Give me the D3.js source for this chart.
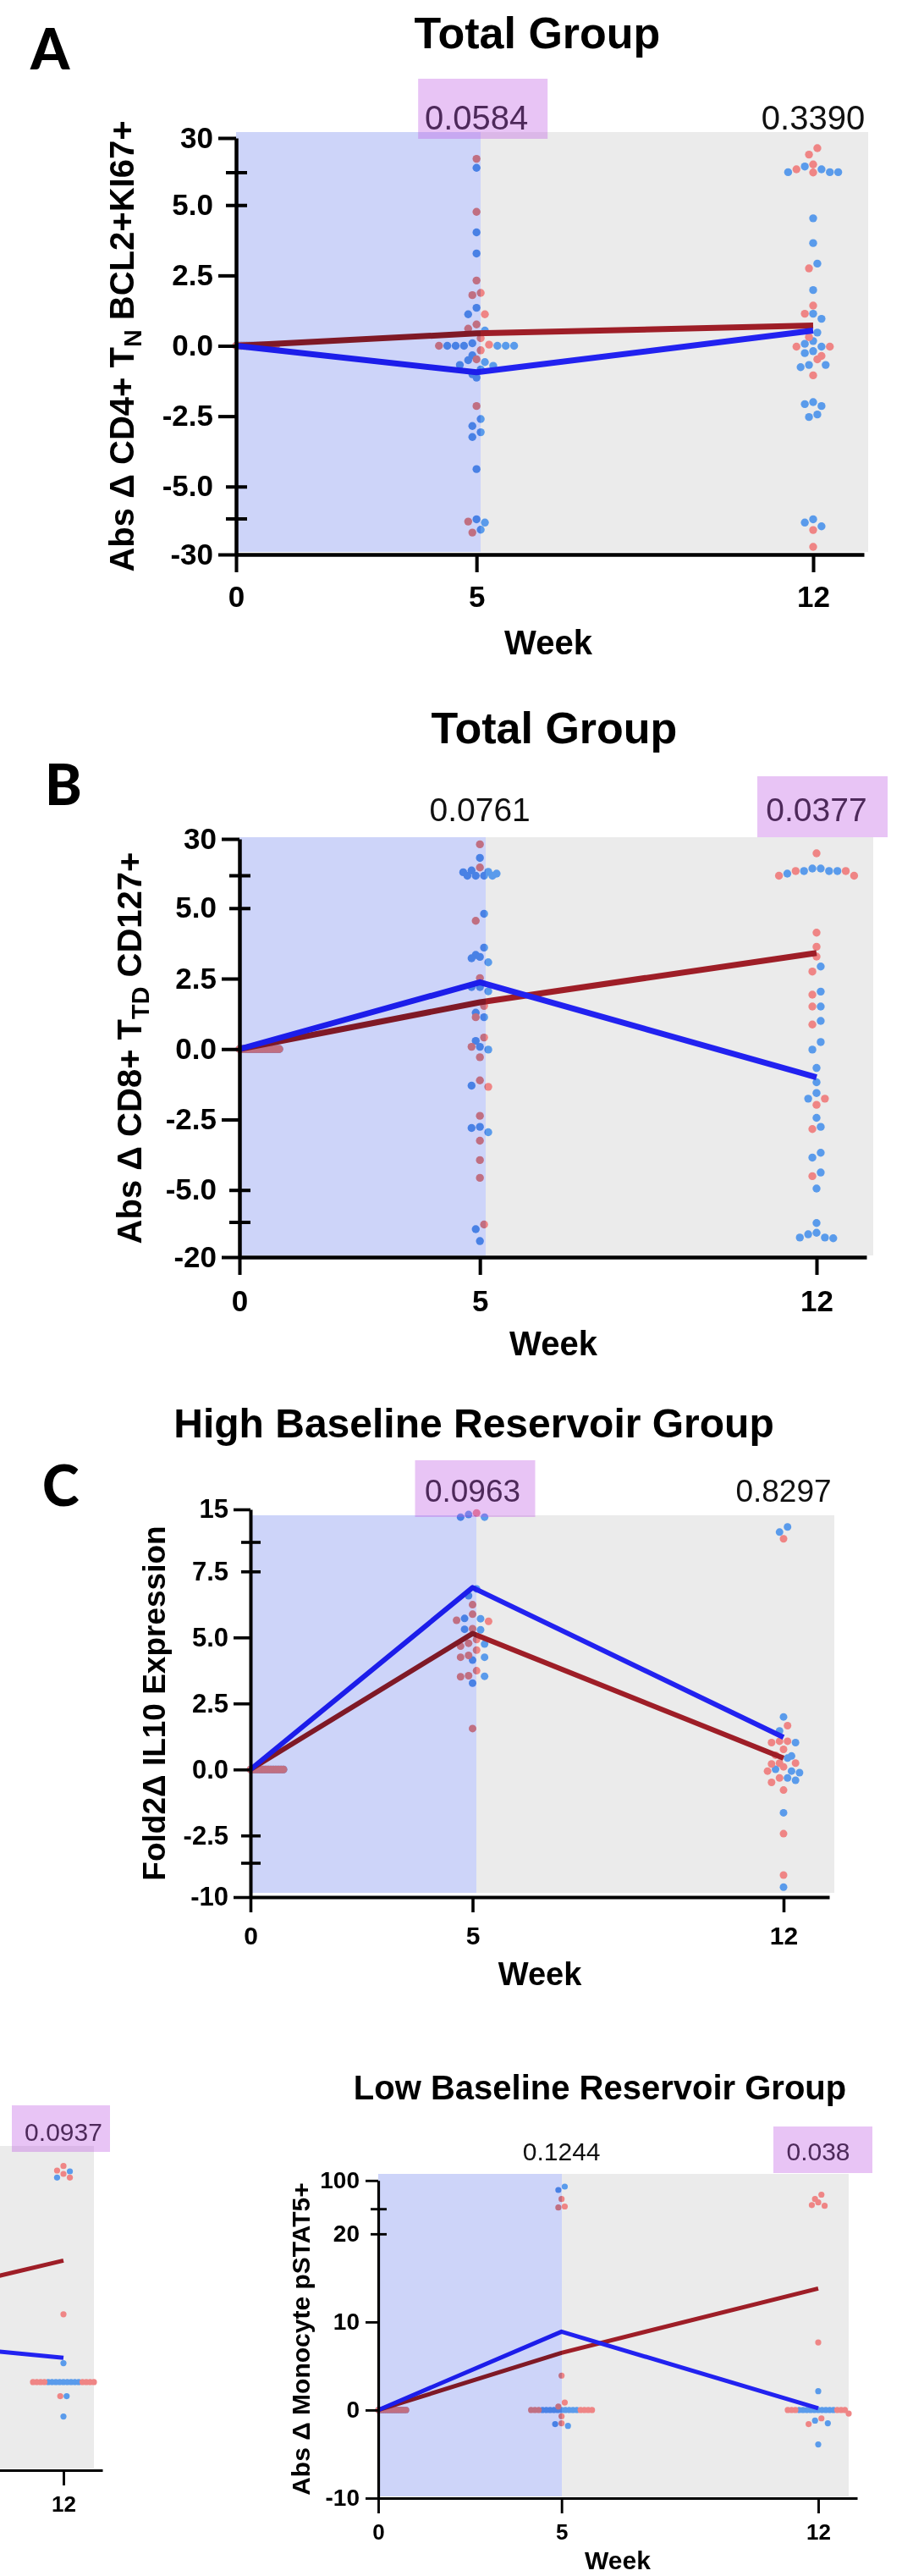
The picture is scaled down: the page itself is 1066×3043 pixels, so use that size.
<!DOCTYPE html>
<html>
<head>
<meta charset="utf-8">
<script src="https://cdn.jsdelivr.net/npm/d3@7"></script>
<style>
  body { margin: 0; background: #fff; }
  svg { display: block; }
</style>
</head>
<body>
<svg id="fig" width="1066" height="3043"></svg>
<script>
// weeks on the x axis
var weeks = [0, 5, 12];

// ---- A : Abs delta CD4+ TN BCL2+KI67+, total group
var aTicks = [30, 5, 2.5, 0, -2.5, -5, -30];
var aTickLabels = ["30", "5.0", "2.5", "0.0", "-2.5", "-5.0", "-30"];
var aPvals = ["", "0.0584", "0.3390"];
var aPhigh = [false, true, false];
var aBlueMean = [0, -0.94, 0.54];
var aRedMean = [0, 0.44, 0.72];
var aBlue0 = [0,0,0,0,0,0,0,0,0,0,0,0,0,0,0,0,0,0,0,0,0,0,0,0,0,0,0,0];
var aRed0 = [0,0,0,0,0,0,0,0,0,0,0,0,0,0,0,0];
var aBlue5 = [9.5, 4.03, 3.28, 1.35, 1.12, 0.54, 0.09, 0, 0, 0, 0, 0, 0, -0.34, -0.51, -0.58, -0.68,
  -0.71, -0.84, -1.01, -1.13, -2.6, -2.85, -3.07, -3.24, -4.38, -6.4, -8.6, -13.4];
var aRed5 = [15.7, 4.76, 2.32, 1.88, 1.8, 1.12, 0.76, 0.61, 0.27, 0.04, 0, -0.16, -0.48, -2.14, -7.9, -15.3];
var aBlue12 = [10.4, 8.5, 6.5, 6.5, 6.5, 4.53, 3.65, 2.92, 1.98, 1.14, 0.96, 0.47, 0.17, 0.07, -0.03, -0.19,
  -0.26, -0.68, -0.68, -0.76, -2.0, -2.07, -2.14, -2.44, -2.53, -6.4, -8.6, -11.1];
var aRed12 = [23, 18.6, 11.8, 8.5, 6.3, 2.75, 1.43, 1.14, 0.31, -0.03, -0.03, -0.36, -0.48, -1.05, -13.6, -24.9];

// ---- B : Abs delta CD8+ TTD CD127+, total group
var bTicks = [30, 5, 2.5, 0, -2.5, -5, -20];
var bTickLabels = ["30", "5.0", "2.5", "0.0", "-2.5", "-5.0", "-20"];
var bPvals = ["", "0.0761", "0.0377"];
var bPhigh = [false, false, true];
var bBlueMean = [0, 2.37, -1.0];
var bRedMean = [0, 1.66, 3.41];
var bBlue0 = [0,0,0,0,0,0,0,0,0,0,0,0,0,0,0,0,0,0,0,0,0,0,0,0,0,0,0,0];
var bRed0 = [0,0,0,0,0,0,0,0,0,0,0,0,0,0,0,0];
var bBlue5 = [17.7, 9.6, 8.7, 8.4, 7.5, 6.15, 6.15, 6.15, 6.15, 4.8, 3.6, 3.34, 3.27, 3.22, 3.08, 2.2, 2.2,
  2.05, 1.29, 1.13, 0.29, 0.08, -0.02, -1.3, -2.76, -2.8, -2.95, -8.85, -13.6];
var bRed5 = [26.5, 11.5, 4.55, 2.52, 1.53, 1.13, 0.41, 0.08, -0.29, -1.11, -1.34, -2.37, -3.25, -3.94, -4.57, -7.0];
var bBlue12 = [10.8, 10.8, 9.2, 9.2, 9.2, 7.5, 2.93, 2.04, 1.51, 1.0, 0.25, -0.02, -0.67, -1.18, -1.56, -1.76,
  -2.44, -2.76, -3.68, -3.85, -4.38, -4.95, -6.4, -10.3, -10.9, -12.2, -12.2, -12.5];
var bRed12 = [20.7, 9.2, 9.2, 6.15, 6.15, 4.13, 3.63, 3.28, 2.75, 1.93, 1.51, 0.87, -1.76, -1.98, -2.84, -4.51];

// ---- C : Fold2 delta IL10 expression, high baseline reservoir group
var cTicks = [15, 7.5, 5, 2.5, 0, -2.5, -10];
var cTickLabels = ["15", "7.5", "5.0", "2.5", "0.0", "-2.5", "-10"];
var cPvals = ["", "0.0963", "0.8297"];
var cPhigh = [false, true, false];
var cBlueMean = [0, 6.89, 1.22];
var cRedMean = [0, 5.15, 0.43];
var cBlue0 = [0,0,0,0,0,0,0,0,0,0,0,0,0,0];
var cRed0 = [0,0,0,0,0,0,0,0,0,0,0,0,0,0,0,0,0];
var cBlue5 = [14.0, 13.5, 13.5, 6.84, 6.58, 5.72, 5.71, 5.31, 5.29, 4.75, 4.25, 4.14, 3.53, 3.27];
var cRed5 = [14.3, 6.24, 5.88, 5.65, 5.61, 5.33, 4.92, 4.78, 4.67, 4.52, 4.32, 4.25, 3.74, 3.55, 3.51, 1.55];
var cBlue12 = [11.6, 10.6, 1.99, 1.46, 1.02, 0.51, 0.43, 0.01, -0.06, -0.12, -0.32, -0.41, -1.64, -8.1];
var cRed12 = [9.3, 1.66, 1.07, 1.07, 1.02, 0.76, 0.54, 0.24, 0.24, 0.21, 0.1, -0.06, -0.32, -0.49, -0.78, -2.43, -5.8];

// ---- D : Abs delta monocyte pSTAT5+, low baseline reservoir group
var dTicks = [100, 20, 10, 0, -10];
var dTickLabels = ["100", "20", "10", "0", "-10"];
var dPvals = ["", "0.1244", "0.038"];
var dPhigh = [false, false, true];
var dBlueMean = [0, 8.9, 0.2];
var dRedMean = [0, 6.5, 13.8];
var dBlue0 = [0,0,0,0,0,0,0,0,0,0,0,0,0,0];
var dRed0 = [0,0,0,0,0,0,0,0,0,0,0,0,0,0,0];
var dBlue5 = [83.6, 74.5, 0, 0, 0, 0, 0, 0, 0, 0, 0, 0, -1.6, -1.8];
var dRed5 = [50.1, 30.1, 27.4, 3.91, 0.85, 0.4, 0, 0, 0, 0, 0, 0, 0, -0.7, -1.5];
var dBlue12 = [2.14, 0, 0, 0, 0, 0, 0, 0, 0, 0, 0, -1.2, -1.5, -3.9];
var dRed12 = [62, 50.1, 41, 34, 31.9, 7.68, 0, 0, 0, 0, 0, 0, -0.4, -0.94, -1.6];

// ---- E : neighbouring panel cut by the left edge (only week 12 is visible)
var ePvals = ["", "", "0.0937"];
var ePhigh = [false, false, true];
var eBlueMean = [0, 5.6, 2.75];
var eRedMean = [0, 6.9, 13.8];
var eBlue12 = [49.4, 32.8, 2.15, 0, 0, 0, 0, 0, 0, 0, 0, 0, -1.6, -3.9];
var eRed12 = [63.8, 51.7, 42.6, 32.8, 7.7, 0, 0, 0, 0, 0, 0, 0, 0, -1.6];

var FONT = "'Liberation Sans', Arial, Helvetica, sans-serif";
var BLUE_DOT = "#5a9beb", RED_DOT = "#ef8585";
var BLUE_LINE = "#2222f0", RED_LINE = "#9e1e27";

var svg = d3.select("#fig");

// rows of dots, GraphPad style: values that sit within one dot of each other share a row
function swarm(items, y, r, maxHalf) {
  var diam = 2 * r;
  var s = items.slice().sort(function (a, b) { return b.v - a.v; });
  var bins = [];
  s.forEach(function (p) {
    var b = bins[bins.length - 1];
    if (b && y(p.v) - y(b[0].v) < diam) b.push(p); else bins.push([p]);
  });
  bins.forEach(function (b) {
    var n = b.length;
    var d = n > 1 ? Math.min(diam * 1.05, 2 * maxHalf / (n - 1)) : 0;
    b.forEach(function (p, i) {
      var k = n % 2 ? Math.ceil(i / 2) : Math.floor(i / 2) + 0.5;
      p.dx = (i % 2 ? -1 : 1) * k * d;
    });
  });
}

function column(g, x, y, c, wk, blue, red) {
  var items = blue.map(function (v) { return {v: v, col: BLUE_DOT}; })
    .concat(red.map(function (v) { return {v: v, col: RED_DOT}; }));
  if (wk === 0) {
    // baseline: every value is 0, spread to the right of the axis
    [BLUE_DOT, RED_DOT].forEach(function (col) {
      var sub = items.filter(function (p) { return p.col === col; });
      sub.forEach(function (p, i) { p.dx = sub.length > 1 ? i * c.w0 / (sub.length - 1) : 0; });
    });
  } else {
    swarm(items, y, c.r, c.maxHalf);
  }
  g.append("g").selectAll("circle").data(items).enter().append("circle")
    .attr("cx", function (d) { return x(wk) + d.dx; })
    .attr("cy", function (d) { return y(d.v); })
    .attr("r", c.r)
    .attr("fill", function (d) { return d.col; });
}

function panel(c) {
  var dx = c.dx || 0, dy = c.dy || 0;
  var g = svg.append("g").attr("transform", "translate(" + dx + "," + dy + ")");
  var x = d3.scaleLinear().domain([0, 12]).range([c.x0, c.x12]);
  var y = d3.scaleLinear().domain(c.yDomain).range(c.yRange);

  // grey part of the plot area
  g.append("rect")
    .attr("x", c.blueEnd).attr("y", c.plotTop)
    .attr("width", c.grayEnd - c.blueEnd).attr("height", c.plotBottom - c.plotTop)
    .attr("fill", "#ebebeb");

  // dots
  weeks.forEach(function (wk, i) {
    column(g, x, y, c, wk, c.blue[i], c.red[i]);
  });

  // group means
  var line = d3.line()
    .x(function (d, i) { return x(weeks[i]); })
    .y(function (d) { return y(d); });
  [[c.redMean, RED_LINE], [c.blueMean, BLUE_LINE]].forEach(function (m) {
    g.append("path").attr("d", line(m[0]))
      .attr("fill", "none").attr("stroke", m[1])
      .attr("stroke-width", c.lineW).attr("stroke-linejoin", "round");
  });

  // blue shading up to week 5, laid over the data
  g.append("rect")
    .attr("x", c.x0).attr("y", c.plotTop)
    .attr("width", c.blueEnd - c.x0).attr("height", c.plotBottom - c.plotTop)
    .attr("fill", "rgb(205,212,249)")
    .style("mix-blend-mode", "multiply");

  // y axis
  var yAxis = d3.axisLeft(y)
    .tickValues(c.yTicks)
    .tickFormat(function (d, i) { return c.yTickLabels[i]; })
    .tickSize(c.tick).tickSizeOuter(0).tickPadding(c.tickPad);
  var ya = g.append("g").attr("transform", "translate(" + c.x0 + ",0)").call(yAxis);
  ya.select(".domain").attr("stroke", "#000").attr("stroke-width", c.axisW);
  ya.selectAll(".tick line").attr("stroke", "#000").attr("stroke-width", c.axisW * 0.9)
    .filter(function (d) { return c.cross.indexOf(d) >= 0; })
    .attr("x1", c.crossR).attr("x2", -c.crossL);
  ya.selectAll(".tick text")
    .attr("font-family", FONT).attr("font-weight", "bold")
    .attr("font-size", c.tickFont).attr("fill", "#000");
  c.breaks.forEach(function (b) {
    ya.append("line").attr("x1", -c.crossL).attr("x2", c.crossR)
      .attr("y1", y(b)).attr("y2", y(b))
      .attr("stroke", "#000").attr("stroke-width", c.axisW * 0.9);
  });

  // x axis
  var xa = x.copy().domain([0, x.invert(c.xAxisEnd)]).range([c.x0, c.xAxisEnd]);
  var xg = g.append("g").attr("transform", "translate(0," + c.axisY + ")")
    .call(d3.axisBottom(xa).tickValues(weeks).tickFormat(d3.format("d"))
      .tickSize(c.xTick).tickSizeOuter(0));
  xg.select(".domain").attr("stroke", "#000").attr("stroke-width", c.axisW);
  xg.selectAll(".tick line").attr("stroke", "#000").attr("stroke-width", c.axisW * 0.9);
  xg.selectAll(".tick text")
    .attr("y", c.xLabelY - c.axisY).attr("dy", 0)
    .attr("font-family", FONT).attr("font-weight", "bold")
    .attr("font-size", c.xTickFont).attr("fill", "#000");

  // a panel pushed past the page edge keeps only the labels that are on the page
  if (c.partial) {
    ya.selectAll(".tick text").remove();
    xg.selectAll(".tick text").filter(function (d) { return x(d) + dx < 0; }).remove();
  }

  // axis titles
  if (c.week) {
    g.append("text").attr("x", c.week.x).attr("y", c.week.y)
      .attr("text-anchor", "middle").attr("font-family", FONT)
      .attr("font-weight", "bold").attr("font-size", c.week.size).text("Week");
  }

  if (c.ylab) {
    var t = g.append("text")
      .attr("transform", "translate(" + c.ylab.x + "," + c.ylab.y + ") rotate(-90)")
      .attr("text-anchor", "middle").attr("font-family", FONT)
      .attr("font-weight", "bold").attr("font-size", c.ylab.size);
    var shift = c.ylab.size * 0.22;
    c.ylab.parts.forEach(function (p, i) {
      var prevSub = i > 0 && c.ylab.parts[i - 1][1];
      var ts = t.append("tspan").text(p[0]);
      if (p[1]) ts.attr("font-size", c.ylab.size * 0.72).attr("dy", shift);
      else if (prevSub) ts.attr("dy", -shift);
    });
  }

  if (c.title) {
    g.append("text").attr("x", c.title.x).attr("y", c.title.y)
      .attr("text-anchor", "middle").attr("font-family", FONT)
      .attr("font-weight", "bold").attr("font-size", c.title.size).text(c.title.text);
  }
  if (c.letter) {
    g.append("text").attr("x", c.letter.x).attr("y", c.letter.y)
      .attr("font-family", "Lato, 'Open Sans', sans-serif").attr("font-weight", 900)
      .attr("font-size", 66).text(c.letter.text);
  }

  // p values above each week, the highlighted ones boxed in lilac
  weeks.forEach(function (wk, i) {
    if (!c.pvals[i]) return;
    g.append("text").attr("x", x(wk)).attr("y", c.pY)
      .attr("text-anchor", "middle").attr("font-family", FONT)
      .attr("font-size", c.pFont).attr("fill", "#111").text(c.pvals[i]);
    if (c.phigh[i]) {
      g.append("rect")
        .attr("x", x(wk) + c.box.l).attr("y", c.box.top)
        .attr("width", c.box.r - c.box.l).attr("height", c.box.bottom - c.box.top)
        .attr("fill", "rgb(189,86,226)").attr("fill-opacity", 0.35);
    }
  });
}

panel({
  x0: 279, x12: 961, xAxisEnd: 1021, grayEnd: 1026, blueEnd: 568,
  plotTop: 156, plotBottom: 652, axisY: 655,
  yDomain: [-30, -6.15, 6.15, 30], yRange: [655, 613, 204, 163],
  yTicks: aTicks, yTickLabels: aTickLabels, cross: [5, -5], breaks: [6.15, -6.15],
  tick: 21, crossL: 12, crossR: 13, tickPad: 6, tickFont: 35,
  xTick: 21, xTickFont: 35, xLabelY: 717,
  week: {x: 648, y: 773, size: 40},
  title: {text: "Total Group", x: 635, y: 57, size: 52},
  letter: {text: "A", x: 36, y: 82},
  ylab: {parts: [["Abs \u0394 CD4+ T", false], ["N", true], [" BCL2+KI67+", false]], x: 158, y: 409, size: 40},
  pvals: aPvals, phigh: aPhigh, pFont: 40, pY: 153, box: {l: -69, r: 84, top: 93, bottom: 164},
  blue: [aBlue0, aBlue5, aBlue12], red: [aRed0, aRed5, aRed12],
  blueMean: aBlueMean, redMean: aRedMean,
  r: 4.7, maxHalf: 45, w0: 47, lineW: 7, axisW: 4.5
});

panel({
  x0: 283, x12: 965, xAxisEnd: 1024, grayEnd: 1032, blueEnd: 574,
  plotTop: 989, plotBottom: 1483, axisY: 1485,
  yDomain: [-20, -6.15, 6.15, 30], yRange: [1485, 1444, 1034.5, 991],
  yTicks: bTicks, yTickLabels: bTickLabels, cross: [5, -5], breaks: [6.15, -6.15],
  tick: 21, crossL: 12, crossR: 13, tickPad: 6, tickFont: 35,
  xTick: 21, xTickFont: 35, xLabelY: 1549,
  week: {x: 654, y: 1601, size: 40},
  title: {text: "Total Group", x: 655, y: 878, size: 52},
  letter: {text: "B", x: 53, y: 951},
  ylab: {parts: [["Abs \u0394 CD8+ T", false], ["TD", true], [" CD127+", false]], x: 167, y: 1238, size: 40},
  pvals: bPvals, phigh: bPhigh, pFont: 39, pY: 970, box: {l: -70, r: 84, top: 917, bottom: 989},
  blue: [bBlue0, bBlue5, bBlue12], red: [bRed0, bRed5, bRed12],
  blueMean: bBlueMean, redMean: bRedMean,
  r: 4.7, maxHalf: 45, w0: 47, lineW: 7, axisW: 4.5
});

panel({
  x0: 296, x12: 926, xAxisEnd: 980, grayEnd: 986, blueEnd: 563,
  plotTop: 1790, plotBottom: 2236, axisY: 2241,
  yDomain: [-10, -3.55, 8.6, 15], yRange: [2241, 2201, 1822, 1783],
  yTicks: cTicks, yTickLabels: cTickLabels, cross: [7.5, -2.5], breaks: [8.6, -3.55],
  tick: 20, crossL: 11, crossR: 12, tickPad: 6, tickFont: 31,
  xTick: 18, xTickFont: 30, xLabelY: 2297,
  week: {x: 638, y: 2345, size: 38},
  title: {text: "High Baseline Reservoir Group", x: 560, y: 1698, size: 48},
  letter: {text: "C", x: 50, y: 1779},
  ylab: {parts: [["Fold2\u0394 IL10 Expression", false]], x: 195, y: 2012, size: 37},
  pvals: cPvals, phigh: cPhigh, pFont: 37, pY: 1774, box: {l: -68, r: 74, top: 1725, bottom: 1792},
  blue: [cBlue0, cBlue5, cBlue12], red: [cRed0, cRed5, cRed12],
  blueMean: cBlueMean, redMean: cRedMean,
  r: 4.5, maxHalf: 40, w0: 39, lineW: 6, axisW: 4
});

var dLayout = {
  x0: 447, x12: 967, xAxisEnd: 1013, grayEnd: 1003, blueEnd: 664,
  plotTop: 2568, plotBottom: 2949, axisY: 2951,
  yDomain: [-10, 22.8, 100], yRange: [2951, 2609.7, 2575.8],
  yTicks: dTicks, yTickLabels: dTickLabels, cross: [20], breaks: [22.8],
  tick: 15, crossL: 9, crossR: 10, tickPad: 7, tickFont: 28,
  xTick: 18, xTickFont: 26, xLabelY: 3000,
  r: 3.6, maxHalf: 36, w0: 33, lineW: 5, axisW: 3.2
};

panel(Object.assign({}, dLayout, {
  week: {x: 730, y: 3035, size: 30},
  title: {text: "Low Baseline Reservoir Group", x: 709, y: 2480, size: 40},
  ylab: {parts: [["Abs \u0394 Monocyte pSTAT5+", false]], x: 366, y: 2763, size: 30},
  pvals: dPvals, phigh: dPhigh, pFont: 30, pY: 2552, box: {l: -53, r: 64, top: 2512, bottom: 2567},
  blue: [dBlue0, dBlue5, dBlue12], red: [dRed0, dRed5, dRed12],
  blueMean: dBlueMean, redMean: dRedMean
}));

// the panel to its left, cut by the page edge
panel(Object.assign({}, dLayout, {
  dx: -892, dy: -33, partial: true,
  pvals: ePvals, phigh: ePhigh, pFont: 30, pY: 2562, box: {l: -61, r: 55, top: 2520, bottom: 2575},
  blue: [[], [], eBlue12], red: [[], [], eRed12],
  blueMean: eBlueMean, redMean: eRedMean
}));
</script>
</body>
</html>
